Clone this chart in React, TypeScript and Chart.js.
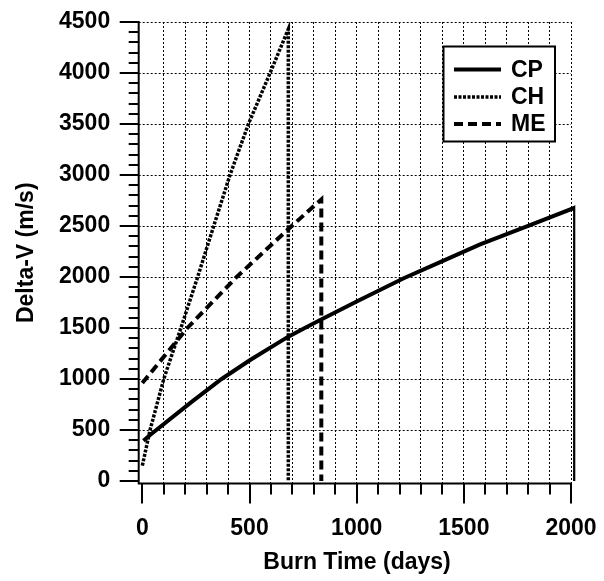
import { useEffect, useRef } from 'react';
import { Chart, registerables } from 'chart.js';

Chart.register(...registerables);

// ---- Data ----
const cpDays = [5, 36, 230, 370, 503, 681, 758, 830, 1000, 1217, 1400, 1576, 1800, 2019, 2019];
const cpDv = [395, 450, 775, 1000, 1186, 1415, 1500, 1578, 1760, 1985, 2155, 2320, 2500, 2680, 0];

const chDays = [0, 36, 100, 180, 258, 333, 409, 495, 596, 681, 681];
const chDv = [150, 500, 1000, 1500, 2000, 2500, 3000, 3500, 4000, 4430, 0];

const meDays = [0, 100, 210, 440, 697, 835, 835];
const meDv = [960, 1217, 1500, 2000, 2500, 2760, 0];

const seriesLabels = ['CP', 'CH', 'ME'];

const xGridTicks = Array.from({ length: 21 }, (_, i) => i * 100); // 0..2000
const xLabelTicks = [0, 500, 1000, 1500, 2000];
const yGridTicks = [0, 500, 1000, 1500, 2000, 2500, 3000, 3500, 4000, 4500];
const yMinorStep = 100;
const xTitle = 'Burn Time (days)';
const yTitle = 'Delta-V (m/s)';

const FONT = "'Liberation Sans', Arial, Helvetica, sans-serif";

const toPoints = (xs: number[], ys: number[]) => xs.map((x, i) => ({ x, y: ys[i] }));

const zeroPad = (s: any) => {
  s.paddingTop = 0;
  s.paddingBottom = 0;
  s.paddingLeft = 0;
  s.paddingRight = 0;
};

const gridPlugin = {
  id: 'hGrid',
  beforeDatasetsDraw(chart: any) {
    const { ctx, chartArea } = chart;
    const xs = chart.scales.x;
    const ys = chart.scales.y;
    const xEnd = xs.getPixelForValue(2000);
    ctx.save();
    ctx.strokeStyle = '#000';
    ctx.lineWidth = 1;
    ctx.setLineDash([2, 2]);
    ctx.beginPath();
    for (const v of yGridTicks) {
      if (v === 0) continue;
      const py = Math.round(ys.getPixelForValue(v)) + 0.5;
      ctx.moveTo(chartArea.left, py);
      ctx.lineTo(xEnd, py);
    }
    ctx.stroke();
    ctx.restore();
  },
};

const axisPlugin = {
  id: 'axisTicks',
  afterDraw(chart: any) {
    const { ctx, chartArea } = chart;
    const xs = chart.scales.x;
    const ys = chart.scales.y;
    const left = chartArea.left;
    const bottom = chartArea.bottom;
    ctx.save();
    ctx.strokeStyle = '#000';
    ctx.lineWidth = 2;
    ctx.setLineDash([]);
    ctx.lineCap = 'butt';
    ctx.beginPath();
    ctx.moveTo(left, ys.getPixelForValue(4500) - 1);
    ctx.lineTo(left, bottom + 1);
    ctx.moveTo(left - 1, bottom);
    ctx.lineTo(xs.getPixelForValue(2000) + 1, bottom);
    for (const v of xGridTicks) {
      const px = Math.round(xs.getPixelForValue(v));
      const len = xLabelTicks.includes(v) ? 20 : 11;
      ctx.moveTo(px, bottom);
      ctx.lineTo(px, bottom + len);
    }
    for (let v = 0; v <= 4500; v += yMinorStep) {
      const py = Math.round(ys.getPixelForValue(v));
      const len = v % 500 === 0 ? 19 : 10;
      ctx.moveTo(left, py);
      ctx.lineTo(left - len, py);
    }
    ctx.stroke();
    ctx.restore();
  },
};

const legendPlugin = {
  id: 'boxLegend',
  afterDraw(chart: any) {
    const { ctx } = chart;
    const bx = 443.5, by = 46.5, bw = 111.5, bh = 95;
    ctx.save();
    ctx.fillStyle = '#fff';
    ctx.fillRect(bx, by, bw, bh);
    ctx.strokeStyle = '#000';
    ctx.lineWidth = 2;
    ctx.setLineDash([]);
    ctx.strokeRect(bx, by, bw, bh);
    const rows = [69.5, 97, 124];
    chart.data.datasets.forEach((ds: any, i: number) => {
      const y = rows[i];
      ctx.beginPath();
      ctx.strokeStyle = ds.borderColor;
      ctx.lineWidth = ds.borderWidth;
      ctx.setLineDash(ds.borderDash || []);
      ctx.moveTo(454, y);
      ctx.lineTo(501, y);
      ctx.stroke();
      ctx.setLineDash([]);
      ctx.fillStyle = '#000';
      ctx.font = `bold 23px ${FONT}`;
      ctx.textAlign = 'left';
      ctx.textBaseline = 'middle';
      ctx.fillText(ds.label, 511, y + 1);
    });
    ctx.restore();
  },
};

export default function App() {
  const ref = useRef<HTMLCanvasElement | null>(null);

  useEffect(() => {
    if (!ref.current) return;
    const chart = new Chart(ref.current, {
      type: 'line',
      data: {
        datasets: [
          {
            label: seriesLabels[0],
            data: toPoints(cpDays, cpDv),
            borderColor: '#000',
            borderWidth: 4,
            borderDash: [],
            borderJoinStyle: 'miter',
            pointRadius: 0,
            tension: 0,
          },
          {
            label: seriesLabels[1],
            data: toPoints(chDays, chDv),
            borderColor: '#000',
            borderWidth: 3.5,
            borderDash: [3, 1.5],
            pointRadius: 0,
            tension: 0,
          },
          {
            label: seriesLabels[2],
            data: toPoints(meDays, meDv),
            borderColor: '#000',
            borderWidth: 4,
            borderDash: [9, 5],
            pointRadius: 0,
            tension: 0,
          },
        ],
      },
      options: {
        animation: false,
        responsive: false,
        layout: { padding: { left: 0, right: 28.7, top: 22, bottom: 0 } },
        plugins: {
          legend: { display: false },
          tooltip: { enabled: false },
        },
        scales: {
          x: {
            type: 'linear',
            min: -17,
            max: 2020,
            afterBuildTicks: (s: any) => {
              s.ticks = xGridTicks.map((v) => ({ value: v }));
            },
            afterFit: (s: any) => {
              s.height = 97.5;
              zeroPad(s);
            },
            grid: {
              color: (c: any) => (c.tick && c.tick.value === 0 ? 'rgba(0,0,0,0)' : '#000'),
              lineWidth: 1,
              drawTicks: false,
            },
            border: { display: false, dash: [2, 2] },
            ticks: {
              autoSkip: false,
              maxRotation: 0,
              padding: 31,
              color: '#000',
              font: { family: FONT, size: 23, weight: 'bold' },
              callback: (v: any) => (xLabelTicks.includes(Number(v)) ? String(v) : ''),
            },
            title: {
              display: true,
              text: xTitle,
              color: '#000',
              font: { family: FONT, size: 23, weight: 'bold' },
              padding: { top: 0, bottom: 5 },
            },
          },
          y: {
            type: 'linear',
            min: -25,
            max: 4500,
            afterBuildTicks: (s: any) => {
              s.ticks = yGridTicks.map((v) => ({ value: v }));
            },
            afterFit: (s: any) => {
              s.width = 138.7;
              zeroPad(s);
            },
            grid: { display: true, drawOnChartArea: false, drawTicks: false },
            border: { display: false },
            ticks: {
              autoSkip: false,
              padding: 28.5,
              color: '#000',
              font: { family: FONT, size: 23, weight: 'bold' },
              callback: (v: any) => String(v),
            },
            title: {
              display: true,
              text: yTitle,
              color: '#000',
              font: { family: FONT, size: 23, weight: 'bold' },
              padding: { top: 13, bottom: 0 },
            },
          },
        },
      },
      plugins: [gridPlugin, axisPlugin, legendPlugin],
    });
    return () => chart.destroy();
  }, []);

  return (
    <div style={{ position: 'absolute', left: 0, top: 0, width: 604, height: 581, background: '#fff' }}>
      <canvas ref={ref} width={604} height={581} style={{ display: 'block' }} />
    </div>
  );
}
